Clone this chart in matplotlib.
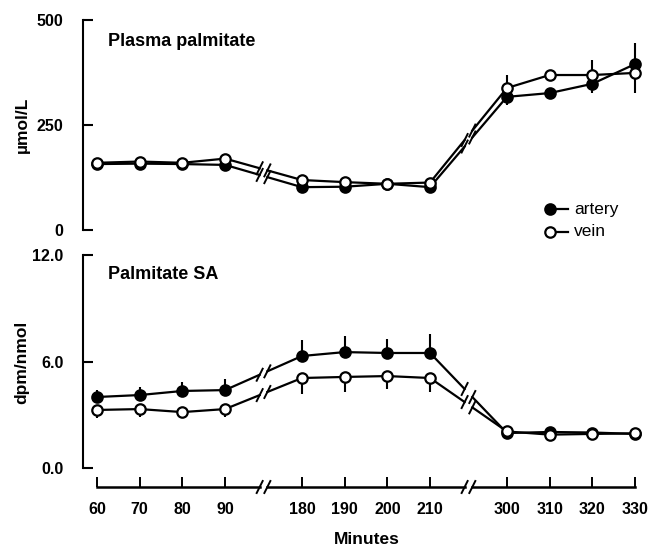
import numpy as np
import matplotlib
matplotlib.use("Agg")
import matplotlib.pyplot as plt
from matplotlib.lines import Line2D

plt.rcParams['font.family'] = ['Liberation Sans', 'DejaVu Sans']
plt.rcParams['font.weight'] = 'bold'

# data
minutes = [60, 70, 80, 90, 180, 190, 200, 210, 300, 310, 320, 330]
plasma_artery = [157, 158, 157, 155, 102, 103, 110, 102, 317, 326, 348, 395]
plasma_vein = [160, 163, 160, 170, 119, 114, 110, 113, 338, 369, 369, 374]
# signed one-sided error bars (+ up, - down)
plasma_artery_err = [0, 0, 0, 0, 0, 0, 0, 0, -19, 0, -21, 50]
plasma_vein_err = [0, 0, 0, 0, 0, 0, 0, 0, 31, -15, 36, -48]

sa_artery = [4.0, 4.11, 4.34, 4.39, 6.31, 6.53, 6.48, 6.48, 1.97, 2.03, 2.0, 1.92]
sa_vein = [3.27, 3.32, 3.15, 3.32, 5.07, 5.13, 5.18, 5.07, 2.06, 1.88, 1.92, 1.95]
sa_artery_err = [0.4, 0.45, 0.5, 0.6, 0.9, 0.9, 0.8, 1.07, 0, 0, 0, 0]
sa_vein_err = [-0.45, -0.45, 0, -0.45, -0.9, -0.85, -0.73, -0.8, 0, 0, 0, 0]

# broken x scale: three groups of minutes
seg_start = [60, 180, 300]
seg_offset = [0, 4.8, 9.6]
breaks = [3.9, 8.7]
gap = 0.09


def xpos(m):
    i = 0 if m < 150 else (1 if m < 250 else 2)
    return (m - seg_start[i]) / 10 + seg_offset[i]


x = np.array([xpos(m) for m in minutes])


def slash(ax, xb, yb, h=6, w=3):
    # short "/" mark centred on (xb, yb), size in pixels
    px, py = ax.transData.transform((xb, yb))
    inv = ax.transData.inverted()
    p0 = inv.transform((px - w, py - h))
    p1 = inv.transform((px + w, py + h))
    ax.plot([p0[0], p1[0]], [p0[1], p1[1]], color='black', lw=1.4,
            clip_on=False, zorder=4)


def broken_series(ax, x, y, err, filled):
    y = np.asarray(y, dtype=float)
    err = np.asarray(err, dtype=float)
    groups = [slice(0, 4), slice(4, 8), slice(8, 12)]
    for g in groups:
        ax.plot(x[g], y[g], color='black', lw=1.6, zorder=2)
    for k, b in enumerate(breaks):
        x0, y0 = x[4 * k + 3], y[4 * k + 3]
        x1, y1 = x[4 * k + 4], y[4 * k + 4]
        ya = np.interp(b - gap, [x0, x1], [y0, y1])
        yb = np.interp(b + gap, [x0, x1], [y0, y1])
        ax.plot([x0, b - gap], [y0, ya], color='black', lw=1.6, zorder=2)
        ax.plot([b + gap, x1], [yb, y1], color='black', lw=1.6, zorder=2)
        slash(ax, b - gap, ya)
        slash(ax, b + gap, yb)
    lo = np.where(err < 0, -err, 0)
    hi = np.where(err > 0, err, 0)
    ax.errorbar(x, y, yerr=[lo, hi], fmt='none', ecolor='black',
                elinewidth=1.5, capsize=0, zorder=3)
    ax.plot(x, y, 'o', ms=7.5, mec='black', mew=1.6,
            mfc='black' if filled else 'white', zorder=5)


fig = plt.figure(figsize=(6.52, 5.47), dpi=100)
W, H = 652, 547
left = 83 / W
width = (645 - 83) / W
ax1 = fig.add_axes([left, 1 - 230 / H, width, 210 / H])
ax2 = fig.add_axes([left, 1 - 487 / H, width, 232 / H])

xlim = (-14 / 42.7, 12.6 + 10 / 42.7)
ax1.set_xlim(*xlim)
ax2.set_xlim(*xlim)
ax1.set_ylim(0, 500)
ax2.set_ylim(-1.07, 12)

broken_series(ax1, x, plasma_artery, plasma_artery_err, True)
broken_series(ax1, x, plasma_vein, plasma_vein_err, False)
broken_series(ax2, x, sa_artery, sa_artery_err, True)
broken_series(ax2, x, sa_vein, sa_vein_err, False)

for ax in (ax1, ax2):
    for s in ('top', 'right', 'bottom'):
        ax.spines[s].set_visible(False)
    ax.spines['left'].set_linewidth(1.5)
    ax.tick_params(axis='y', direction='in', length=7, width=1.5, pad=14,
                   labelsize=11.5)

ax1.set_yticks([0, 250, 500])
ax1.set_yticklabels(['0', '250', '500'])
ax1.set_xticks([])
ax2.set_yticks([0, 6, 12])
ax2.set_yticklabels(['0.0', '6.0', '12.0'])
ax2.spines['left'].set_bounds(0, 12)

# x axis with breaks
ybase = -1.07
xa = [x[0], breaks[0] - gap, breaks[0] + gap, breaks[1] - gap, breaks[1] + gap, x[-1]]
for a, b in zip(xa[0::2], xa[1::2]):
    ax2.plot([a, b], [ybase, ybase], color='black', lw=1.8, clip_on=False, zorder=4)
for b in breaks:
    slash(ax2, b - gap, ybase)
    slash(ax2, b + gap, ybase)
ax2.set_xticks(x)
ax2.set_xticklabels([str(m) for m in minutes])
ax2.tick_params(axis='x', direction='in', length=7, width=1.4, pad=11,
                labelsize=11.5)

ax1.text(0.045, 0.9, 'Plasma palmitate', transform=ax1.transAxes,
         fontsize=13, va='center', ha='left')
ax2.text(0.045, 0.918, 'Palmitate SA', transform=ax2.transAxes,
         fontsize=13, va='center', ha='left')

fig.text(22 / W, 1 - 125 / H, 'µmol/L', rotation=90, ha='center', va='center',
         fontsize=12.5)
fig.text(22 / W, 1 - 362 / H, 'dpm/nmol', rotation=90, ha='center', va='center',
         fontsize=12.5)
fig.text(367 / W, 1 - 539 / H, 'Minutes', ha='center', va='center', fontsize=12.5)

# legend
for yy, lab, fc in [(209, 'artery', 'black'), (232, 'vein', 'white')]:
    fig.add_artist(Line2D([550 / W, 568 / W], [1 - yy / H, 1 - yy / H],
                          color='black', lw=1.6))
    fig.add_artist(Line2D([550 / W], [1 - yy / H], marker='o', ms=7.5,
                          mfc=fc, mec='black', mew=1.6))
    fig.text(574 / W, 1 - yy / H, lab, ha='left', va='center', fontsize=12.5,
             fontweight='normal')

fig.savefig('out.png', dpi=100)
